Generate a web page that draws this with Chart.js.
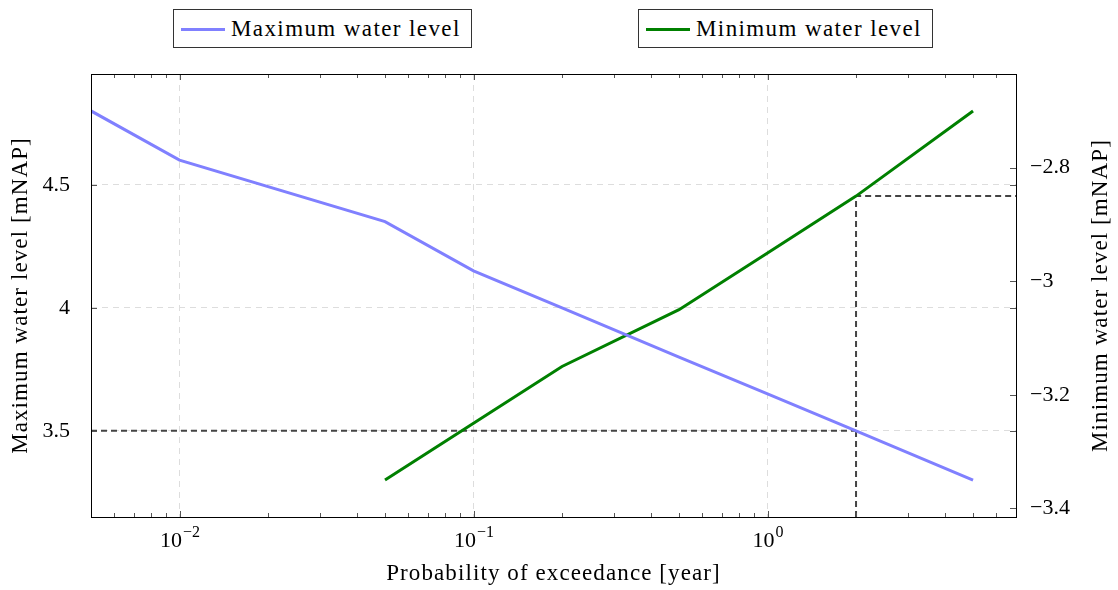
<!DOCTYPE html>
<html>
<head>
<meta charset="utf-8">
<script src="https://cdn.jsdelivr.net/npm/chart.js@4.4.0/dist/chart.umd.min.js"></script>
<style>
  html, body { margin: 0; padding: 0; background: #fff; }
  #wrap { position: relative; width: 1118px; height: 590px; }
  #chart { position: absolute; left: 0; top: 0; }
  .legend { position: absolute; top: 9px; height: 37px; border: 1px solid #333; background: #fff;
            font-family: "Liberation Serif", serif; font-size: 23px; letter-spacing: 1.4px; line-height: 37px;
            color: #000; white-space: nowrap; }
  .legend .swatch { display: inline-block; width: 44px; height: 3px; vertical-align: middle; margin: 0 6px 2px 7px; }
</style>
</head>
<body>
<div id="wrap">
  <canvas id="chart" width="1118" height="590"></canvas>
  <div class="legend" style="left:173px; width:297px;"><span class="swatch" style="background:rgb(128,128,255)"></span>Maximum water level</div>
  <div class="legend" style="left:638px; width:293px;"><span class="swatch" style="background:rgb(0,128,0)"></span>Minimum water level</div>
</div>
<script>
// probability of exceedance [1/year] and water levels [mNAP]
const maxProb = [0.005, 0.01, 0.05, 0.1, 0.2, 0.5, 1, 2, 5];
const maxLevel = [4.8, 4.6, 4.35, 4.15, 4.0, 3.8, 3.65, 3.5, 3.3];
const minProb = [0.05, 0.1, 0.2, 0.5, 1, 2, 5];
const minLevel = [-3.35, -3.25, -3.15, -3.05, -2.95, -2.85, -2.7];

const designProb = 2;
const maxDesign = 3.5;
const minDesign = -2.85;

const xTicks = [0.01, 0.1, 1];
const xTickExp = ['\u22122', '\u22121', '0'];
const leftTicks = [3.5, 4, 4.5];
const rightTicks = [-3.4, -3.2, -3, -2.8];

const X_MIN = 0.005, X_MAX = 7;
const L_MIN = 3.15, L_MAX = 4.95;
const R_MIN = -3.415, R_MAX = -2.635;

const FONT = '"Liberation Serif", serif';

// minor log ticks 2..9 in every decade inside the range
const xMinor = [];
for (let d = 0.001; d <= 10; d *= 10) {
    for (let k = 2; k <= 9; k++) {
        const v = +(k * d).toPrecision(3);
        if (v > X_MIN && v < X_MAX) xMinor.push(v);
    }
}

const framePlugin = {
    id: 'frame',
    afterDatasetsDraw(chart) {
        const { ctx, chartArea: a, scales } = chart;
        ctx.save();
        ctx.strokeStyle = '#555';
        ctx.lineWidth = 1;
        ctx.beginPath();
        xTicks.forEach(v => {
            const px = Math.round(scales.x.getPixelForValue(v)) + 0.5;
            ctx.moveTo(px, a.bottom); ctx.lineTo(px, a.bottom - 6);
            ctx.moveTo(px, a.top); ctx.lineTo(px, a.top + 6);
        });
        xMinor.forEach(v => {
            const px = Math.round(scales.x.getPixelForValue(v)) + 0.5;
            ctx.moveTo(px, a.bottom); ctx.lineTo(px, a.bottom - 4);
            ctx.moveTo(px, a.top); ctx.lineTo(px, a.top + 4);
        });
        leftTicks.forEach(v => {
            const py = Math.round(scales.yL.getPixelForValue(v)) + 0.5;
            ctx.moveTo(a.left, py); ctx.lineTo(a.left + 6, py);
            ctx.moveTo(a.right, py); ctx.lineTo(a.right - 6, py);
        });
        rightTicks.forEach(v => {
            const py = Math.round(scales.yR.getPixelForValue(v)) + 0.5;
            ctx.moveTo(a.right, py); ctx.lineTo(a.right - 6, py);
        });
        ctx.stroke();

        ctx.strokeStyle = '#000';
        ctx.strokeRect(Math.round(a.left) + 0.5, Math.round(a.top) + 0.5,
                       Math.round(a.right - a.left), Math.round(a.bottom - a.top));

        ctx.fillStyle = '#000';
        ctx.textBaseline = 'alphabetic';

        // x tick labels as 10 with a raised exponent
        xTicks.forEach((v, i) => {
            const px = scales.x.getPixelForValue(v);
            ctx.font = '22px ' + FONT;
            const wBase = ctx.measureText('10').width;
            ctx.font = '16px ' + FONT;
            const wExp = ctx.measureText(xTickExp[i]).width;
            const x0 = px - (wBase + wExp) / 2;
            ctx.textAlign = 'left';
            ctx.font = '22px ' + FONT;
            ctx.fillText('10', x0, 547);
            ctx.font = '16px ' + FONT;
            ctx.fillText(xTickExp[i], x0 + wBase + 1, 537);
        });

        // axis titles
        ctx.font = '23px ' + FONT;
        ctx.letterSpacing = '1.1px';
        ctx.textAlign = 'center';
        ctx.textBaseline = 'middle';
        const midX = (a.left + a.right) / 2, midY = (a.top + a.bottom) / 2;
        ctx.fillText('Probability of exceedance [year]', midX, 574);
        ctx.save();
        ctx.translate(21, midY); ctx.rotate(-Math.PI / 2);
        ctx.fillText('Maximum water level [mNAP]', 0, 0);
        ctx.restore();
        ctx.save();
        ctx.translate(1101, midY); ctx.rotate(-Math.PI / 2);
        ctx.fillText('Minimum water level [mNAP]', 0, 0);
        ctx.restore();
        ctx.restore();
    }
};

const gridStyle = { color: '#dddddd', lineWidth: 1, drawTicks: false };

new Chart(document.getElementById('chart'), {
    type: 'line',
    data: {
        datasets: [
            {
                label: 'Maximum water level',
                data: maxProb.map((p, i) => ({ x: p, y: maxLevel[i] })),
                yAxisID: 'yL',
                borderColor: 'rgb(128,128,255)',
                borderWidth: 3,
                pointRadius: 0,
                tension: 0
            },
            {
                label: 'Minimum water level',
                data: minProb.map((p, i) => ({ x: p, y: minLevel[i] })),
                yAxisID: 'yR',
                borderColor: 'rgb(0,128,0)',
                borderWidth: 3,
                pointRadius: 0,
                tension: 0
            },
            {
                label: 'design max',
                data: [{ x: X_MIN, y: maxDesign }, { x: designProb, y: maxDesign }],
                yAxisID: 'yL',
                borderColor: '#444',
                borderWidth: 2,
                borderDash: [6, 4],
                pointRadius: 0
            },
            {
                label: 'design min',
                data: [{ x: designProb, y: R_MIN }, { x: designProb, y: minDesign }, { x: X_MAX, y: minDesign }],
                yAxisID: 'yR',
                borderColor: '#444',
                borderWidth: 2,
                borderDash: [6, 4],
                pointRadius: 0
            }
        ]
    },
    options: {
        responsive: false,
        animation: false,
        layout: { padding: { top: 74, left: 0, right: 0, bottom: 0 } },
        plugins: { legend: { display: false }, tooltip: { enabled: false } },
        scales: {
            x: {
                type: 'logarithmic',
                min: X_MIN,
                max: X_MAX,
                afterBuildTicks: s => { s.ticks = xTicks.map(v => ({ value: v, major: true })); },
                afterFit: s => { s.height = 73; },
                grid: gridStyle,
                border: { display: false, dash: [6, 5] },
                ticks: { display: false }
            },
            yL: {
                type: 'linear',
                position: 'left',
                min: L_MIN,
                max: L_MAX,
                afterBuildTicks: s => { s.ticks = leftTicks.map(v => ({ value: v })); },
                afterFit: s => { s.width = 91; },
                grid: gridStyle,
                border: { display: false, dash: [6, 5] },
                ticks: {
                    padding: 21,
                    color: '#000',
                    font: { family: FONT, size: 22 },
                    callback: v => String(v)
                }
            },
            yR: {
                type: 'linear',
                position: 'right',
                min: R_MIN,
                max: R_MAX,
                afterBuildTicks: s => { s.ticks = rightTicks.map(v => ({ value: v })); },
                afterFit: s => { s.width = 102; },
                grid: { display: false, drawTicks: false },
                border: { display: false },
                ticks: {
                    padding: 14,
                    color: '#000',
                    font: { family: FONT, size: 22 },
                    callback: v => (v < 0 ? '\u2212' : '') + String(Math.abs(v))
                }
            }
        }
    },
    plugins: [framePlugin]
});
</script>
</body>
</html>
